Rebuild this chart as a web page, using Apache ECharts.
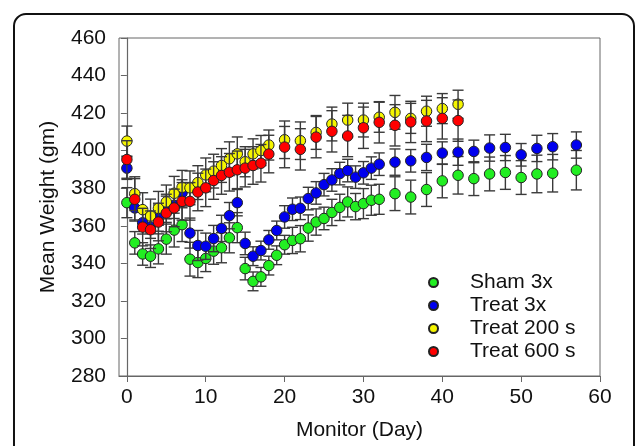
<!DOCTYPE html>
<html><head><meta charset="utf-8">
<script src="https://cdn.jsdelivr.net/npm/echarts@6/dist/echarts.min.js"></script>
<style>html,body{margin:0;padding:0;background:#fff}#c{width:636px;height:446px}</style>
</head><body><div id="c"></div>
<script>
const daysLong = [0,1,2,3,4,5,6,7,8,9,10,11,12,13,14,15,16,17,18,19,20,21,22,23,24,25,26,27,28,29,30,31,32,34,36,38,40,42,44,46,48,50,52,54,57];
const daysShort = [0,1,2,3,4,5,6,7,8,9,10,11,12,13,14,15,16,17,18,20,22,24,26,28,30,32,34,36,38,40,42];
const sham3x = [372.3,350.9,345,343.8,347.7,352.9,357.7,360.6,342.2,340.4,342.6,346.5,348.3,353.6,359,337.2,330.4,332.8,338.8,344.3,349.9,352.2,353.1,358.8,362,363.9,367.1,369.8,372.7,370.2,371.8,373.6,374.1,377.1,375.3,379.3,383.9,386.9,385.1,387.6,388.4,385.7,387.6,388,389.6];
const sham3xErr = [8,6,6,6,8,8,9,9,9,8,7,7,8,8,8,6,5,5,5,5,5,7,7,7,7,6,7,7,8,7,8,8,8,9,9,9,9,10,9,9,9,9,10,10,10.5];
const treat3x = [390.7,369.5,361.6,359.3,364.1,368.8,370.9,377.5,356.1,349.5,349.1,353.2,358.6,365.4,372.3,350.6,343.8,346.8,352.5,357.5,364.7,368.8,369.3,374.5,377.5,381.9,384.4,387.8,389.4,385.9,388.2,390.7,392.8,393.9,394.6,396.4,398.7,399.2,399.6,401.4,401.7,397.8,401.2,402.1,403];
const treat3xErr = [6,7,6,6,7,7,7,7,8,8,7,7,7,7,7,6,5,5,5,5,6,6,6,6,6,6,6,6,6,6,6,6,6,7,6,7,6,7,6,7,7,6,7,7,7];
const treat200 = [405.1,377.1,368.6,365.2,369.3,372.7,377.3,380.5,380.2,383,387.1,389.1,392.1,395.7,398.3,394.1,398.3,400.1,403,405.8,405.3,409.7,414.2,416.3,416.3,417.8,420.4,417.2,421,422.4,424.7];
const treat200Err = [8,9,9,9,9,9,9,9,9,9,9,9,9,9,9,8,8,8,8,10,10,9,9,9,9,8,9,8,8,8,7.5];
const treat600 = [395.3,374.1,359.3,357.9,362,366.8,369.5,373,373,378,380.2,384.1,386.8,388.5,389.8,390.7,392.1,393.3,398.2,401.9,400.7,407.2,410.3,407.8,412.2,415.1,413.5,415.3,415.8,417.2,416];
const treat600Err = [10,11,10,10,10,10,10,10,10,10,10,10,10,10,10,10,10,10,10,11,11,11,11,11,11,11,11,11,11,11,11];
const xTicks = [0,10,20,30,40,50,60];
const yTicks = [280,300,320,340,360,380,400,420,440,460];

const names = ['Sham 3x','Treat 3x','Treat 200 s','Treat 600 s'];
const colors = ['#22ee22','#0000ee','#f5f500','#ff0000'];
const sets = [[daysLong,sham3x,sham3xErr],[daysLong,treat3x,treat3xErr],[daysShort,treat200,treat200Err],[daysShort,treat600,treat600Err]];

function errRender(params, api){
  const x = api.value(0), y = api.value(1), e = api.value(2);
  const t = api.coord([x, y+e]), b = api.coord([x, y-e]);
  const hw = 5.5;
  const st = {stroke:'#3a3a3a', lineWidth:1.4};
  return {type:'group', children:[
    {type:'line', shape:{x1:t[0],y1:t[1],x2:b[0],y2:b[1]}, style:st},
    {type:'line', shape:{x1:t[0]-hw,y1:t[1],x2:t[0]+hw,y2:t[1]}, style:st},
    {type:'line', shape:{x1:b[0]-hw,y1:b[1],x2:b[0]+hw,y2:b[1]}, style:st}
  ]};
}

const series = [];
sets.forEach((s,i)=>{
  const [d,v,e] = s;
  series.push({type:'custom', name:names[i]+' err', renderItem:errRender, z:2*i+1, silent:true,
    data:d.map((x,k)=>[x,v[k],e[k]]), encode:{x:0,y:1}});
  series.push({type:'scatter', name:names[i], z:2*i+2, symbol:'circle', symbolSize:10.5,
    itemStyle:{color:colors[i], borderColor:'#222', borderWidth:1, opacity:1},
    data:d.map((x,k)=>[x,v[k]])});
});

const F = 'Liberation Sans';
const chart = echarts.init(document.getElementById('c'));
chart.setOption({
  animation:false,
  backgroundColor:'#fff',
  grid:{left:119, right:36, top:38, bottom:68, show:true, borderColor:'#666', borderWidth:1},
  xAxis:{type:'value', min:-1, max:60,
    name:'Monitor (Day)', nameLocation:'middle', nameGap:44,
    nameTextStyle:{fontFamily:F, fontSize:21, color:'#111'},
    axisLine:{onZero:false, lineStyle:{color:'#666', width:1.2}},
    axisTick:{show:true, inside:false, length:6, customValues:xTicks, lineStyle:{color:'#666'}},
    axisLabel:{customValues:xTicks, fontFamily:F, fontSize:21, color:'#111', margin:11},
    splitLine:{show:false}},
  yAxis:{type:'value', min:280, max:460, interval:20,
    name:'Mean Weight (gm)', nameLocation:'middle', nameGap:60,
    nameTextStyle:{fontFamily:F, fontSize:21, color:'#111'},
    axisLine:{show:true, lineStyle:{color:'#666', width:1.2}},
    axisTick:{show:true, inside:false, length:6, lineStyle:{color:'#666'}},
    axisLabel:{fontFamily:F, fontSize:21, color:'#111', margin:13},
    splitLine:{show:false}},
  legend:{data:names, orient:'vertical', left:423, top:266, itemWidth:9, itemHeight:9, itemGap:0,
    icon:'circle',
    textStyle:{fontFamily:F, fontSize:21, color:'#111', lineHeight:23, padding:[0,0,0,27]}},
  graphic:[{type:'rect', shape:{x:14, y:14, width:620, height:470, r:12},
    style:{fill:'none', stroke:'#111', lineWidth:2}, z:100}],
  series:series
});
</script></body></html>
